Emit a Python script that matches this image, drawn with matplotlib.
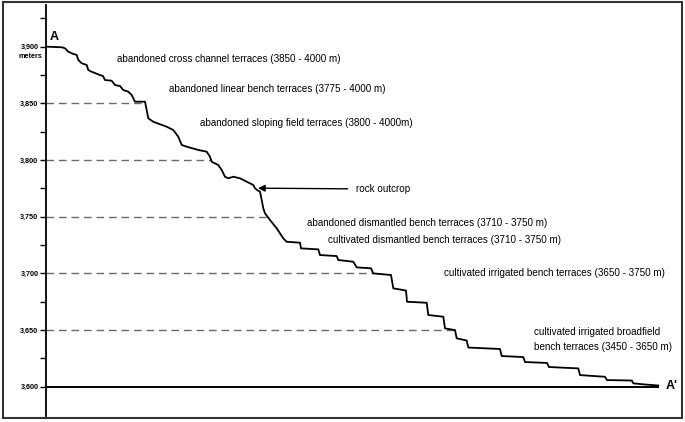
import numpy as np
import matplotlib
matplotlib.use("Agg")
import matplotlib.pyplot as plt
from matplotlib.patches import Rectangle

plt.rcParams['font.family'] = ['Liberation Sans', 'DejaVu Sans']

# Profile A - A' (horizontal distance in arbitrary units, elevation in meters)
distance = [0, 15, 18, 21.3, 24.7, 29.7, 31.3, 34.7, 39.7, 41.3, 44.7, 53, 56, 58,
            64.7, 68, 73, 76.3, 81.3, 84.7, 88, 98, 99.7, 101.3, 106.3, 119.7, 126.3,
            131.3, 134.7, 139.7, 151.3, 159.7, 163, 164.7, 171.3, 174.7, 178, 181.3,
            186.3, 193, 199.7, 206.3, 208, 210, 213, 214.7, 216.3, 218, 223, 229.7,
            236.3, 239.7, 253, 254, 271.3, 273, 289.7, 291.3, 306.3, 309.7, 324, 326.3,
            344, 346.3, 359, 360, 379.7, 381.3, 396.3, 398, 408, 409.7, 419.7, 421.3,
            453, 454.7, 476.3, 478, 500, 502, 531.3, 533, 558, 560, 584.7, 586.3, 598,
            611.3]
elevation = [3900.0, 3899.5, 3898.6, 3895.6, 3894.2, 3892.7, 3888.3, 3885.4, 3883.9,
             3879.4, 3877.9, 3875.0, 3874.1, 3870.6, 3870.0, 3866.2, 3865.3, 3861.8,
             3860.3, 3857.4, 3851.5, 3851.5, 3844.1, 3836.8, 3833.8, 3829.4, 3826.5,
             3820.6, 3813.3, 3811.8, 3808.9, 3807.4, 3802.9, 3798.5, 3795.6, 3791.2,
             3785.3, 3783.9, 3785.3, 3783.9, 3780.9, 3778.0, 3775.1, 3773.6, 3772.1,
             3764.7, 3757.4, 3753.0, 3747.1, 3739.8, 3730.9, 3727.9, 3727.1, 3722.1,
             3721.2, 3716.2, 3715.3, 3711.8, 3710.3, 3705.3, 3704.5, 3700.0, 3698.6,
             3686.8, 3684.9, 3675.0, 3674.1, 3663.3, 3661.8, 3651.5, 3650.0, 3642.7,
             3640.8, 3634.6, 3633.3, 3627.1, 3626.2, 3621.8, 3621.0, 3617.4, 3616.2,
             3610.3, 3608.8, 3605.9, 3605.5, 3603.0, 3602.0, 3601.1]

major_ticks = [3600, 3650, 3700, 3750, 3800, 3850, 3900]
minor_ticks = [3625, 3675, 3725, 3775, 3825, 3875, 3925]
tick_labels = ["3,600", "3,650", "3,700", "3,750", "3,800", "3,850", "3,900"]
dashed_levels = [3850, 3800, 3750, 3700, 3650]
base_level = 3600

zone_labels = [
    "abandoned cross channel terraces (3850 - 4000 m)",
    "abandoned linear bench terraces (3775 - 4000 m)",
    "abandoned sloping field terraces (3800 - 4000m)",
    "abandoned dismantled bench terraces (3710 - 3750 m)",
    "cultivated dismantled bench terraces (3710 - 3750 m)",
    "cultivated irrigated bench terraces (3650 - 3750 m)",
    "cultivated irrigated broadfield\nbench terraces (3450 - 3650 m)",
]
zone_x = [70, 122, 153, 260, 281, 397, 487]
zone_y = [3889.1, 3862.7, 3832.9, 3744.4, 3729.4, 3700.3, 3641.5]

W, H = 685, 422
fig = plt.figure(figsize=(W / 100, H / 100), dpi=100)
ax = fig.add_axes([46 / W, (H - 416) / H, (682 - 46) / W, (416 - 5) / H])
ax.set_xlim(-1, 635)
ax.set_ylim(3574.2, 3936.8)
ax.patch.set_visible(False)

dist = np.array(distance)
elev = np.array(elevation)

# dashed reference lines from axis to the profile
for lev in dashed_levels:
    idx = np.argmax(elev <= lev)
    x0, x1 = dist[idx - 1], dist[idx]
    e0, e1 = elev[idx - 1], elev[idx]
    xc = x0 + (lev - e0) / (e1 - e0) * (x1 - x0) if e1 != e0 else x1
    ax.plot([-1, xc], [lev, lev], color='#6a6a6a', lw=1.0,
            linestyle=(0, (5.5, 3.5)), zorder=1)

# base line
ax.plot([-1, dist[-1]], [base_level, base_level], color='black', lw=1.4, zorder=2)

# profile
ax.plot(dist, elev, color='black', lw=1.3, solid_joinstyle='round', zorder=3)

# axis styling
for s in ['top', 'right', 'bottom']:
    ax.spines[s].set_visible(False)
ax.spines['left'].set_linewidth(1.3)
ax.set_xticks([])
ax.set_yticks(major_ticks)
ax.set_yticklabels(tick_labels, fontsize=5.2, fontweight='bold')
ax.set_yticks(minor_ticks, minor=True)
ax.tick_params(axis='y', which='both', direction='out', length=4.5, width=1.0, pad=1)

ax.text(-5, 3891.5, "meters", fontsize=5.2, fontweight='bold', ha='right', va='center')

# labels
for lab, x, y in zip(zone_labels, zone_x, zone_y):
    ax.text(x, y, lab, fontsize=7.1, ha='left', va='center', linespacing=1.65)

ax.annotate("rock outcrop", xy=(211, 3775.2), xytext=(309, 3774.4),
            fontsize=7.1, ha='left', va='center',
            arrowprops=dict(arrowstyle='-|>', color='black', lw=1.0,
                            shrinkA=4, shrinkB=0, mutation_scale=10))

ax.text(3, 3909, "A", fontsize=9, fontweight='bold', ha='left', va='center')
ax.text(619, 3600.5, "A'", fontsize=9, fontweight='bold', ha='left', va='center')

# outer frame
fig.add_artist(Rectangle((3 / W, (H - 418) / H), (682 - 3) / W, (418 - 2) / H,
                         transform=fig.transFigure, fill=False,
                         edgecolor='#333333', lw=1.5))

fig.savefig("out.png", dpi=100)
